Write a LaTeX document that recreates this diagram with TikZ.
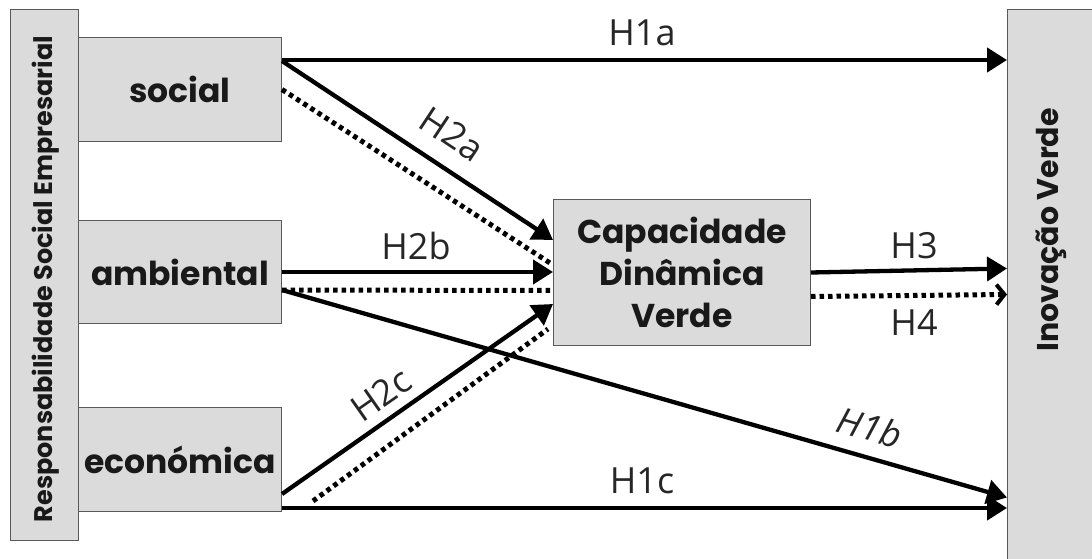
\documentclass[tikz,border=0pt]{standalone}
\usepackage{fontspec}
\usetikzlibrary{arrows.meta}
\newfontfamily\boxfont{Poppins}
\newfontfamily\labfont{Open Sans}

\begin{document}
\begin{tikzpicture}[x=1pt,y=-1pt,
  panel/.style={draw=black!65, line width=1pt, fill=black!14, inner sep=0pt,
    anchor=north west, align=center, text=black!90},
  label/.style={font=\boxfont\bfseries\fontsize{33}{42}\selectfont},
  link/.style={line width=4.3pt, -{Triangle[length=20pt,width=24pt]}},
  dotlink/.style={line width=5pt, dash pattern=on 4.5pt off 4pt},
  hyp/.style={font=\labfont\fontsize{36}{36}\selectfont, text=black!85, inner sep=0pt},
]
\useasboundingbox[fill=white] (0,0) rectangle (1092,559);

% constructs
\node[panel, minimum width=68pt, minimum height=531pt] (rse) at (10,9) {};
\node[rotate=90, font=\boxfont\bfseries\fontsize{25.5}{25.5}\selectfont, text=black!90] (rsetxt) at ([xshift=1pt,yshift=-4pt]rse.center) {Responsabilidade Social Empresarial};
\node[panel, minimum width=203pt, minimum height=104pt, label] (soc) at (78,37) {social};
\node[panel, minimum width=203pt, minimum height=103pt, label] (amb) at (78,220) {ambiental};
\node[panel, minimum width=203pt, minimum height=104pt, label] (eco) at (78,407) {económica};
\node[panel, minimum width=257pt, minimum height=146pt, label] (cdv) at (553,199) {Capacidade\\Dinâmica\\Verde};
\node[panel, minimum width=100pt, minimum height=560pt] (inv) at (1007,9) {};
\node[rotate=90, font=\boxfont\bfseries\fontsize{30}{30}\selectfont, text=black!90] (invtxt) at (1051,230) {Inovação Verde};

% direct effects
\draw[link] ([yshift=-23pt]soc.north east) -- ([yshift=-23pt]soc.north east -| inv.west);
\draw[link] ([yshift=-18pt]amb.east) -- ([yshift=-208pt]inv.west);
\draw[link] ([yshift=4pt]eco.south east) -- ([yshift=4pt]eco.south east -| inv.west);

% effects on green dynamic capability
\draw[link] ([yshift=-24pt]soc.north east) -- ([yshift=-41pt]cdv.north west);
\draw[dotlink] (soc.east) -- ([xshift=-3pt,yshift=-64pt]cdv.north west);
\draw[link] (amb.east) -- (amb.east -| cdv.west);
\draw[dotlink] ([yshift=-18pt]amb.east) -- ([yshift=-18pt]cdv.west);
\draw[link] ([yshift=18pt]eco.south east) -- ([yshift=42pt]cdv.south west);
\draw[dotlink] ([xshift=31pt,yshift=11pt]eco.south east) -- ([xshift=-5pt,yshift=17pt]cdv.south west);

% capability to innovation
\draw[link] (cdv.east) -- ([yshift=4pt]cdv.east -| inv.west);
\draw[dotlink, -{Straight Barb[length=8pt,width=20pt,line width=4pt]}] ([yshift=-24pt]cdv.east) -- ([yshift=-22pt]cdv.east -| inv.west);

% hypothesis labels
\node[hyp] (h1a) at (642,33) {H1a};
\node[hyp, rotate=-33.5] (h2a) at (452,134) {H2a};
\node[hyp] (h2b) at (416,246) {H2b};
\node[hyp, rotate=35] (h2c) at (381,395) {H2c};
\node[hyp, rotate=-16, font=\labfont\itshape\fontsize{36}{36}\selectfont] (h1b) at (870,427) {H1b};
\node[hyp] (h1c) at (642,481) {H1c};
\node[hyp] (h3) at (914,246) {H3};
\node[hyp] (h4) at (914,323) {H4};
\end{tikzpicture}
\end{document}
